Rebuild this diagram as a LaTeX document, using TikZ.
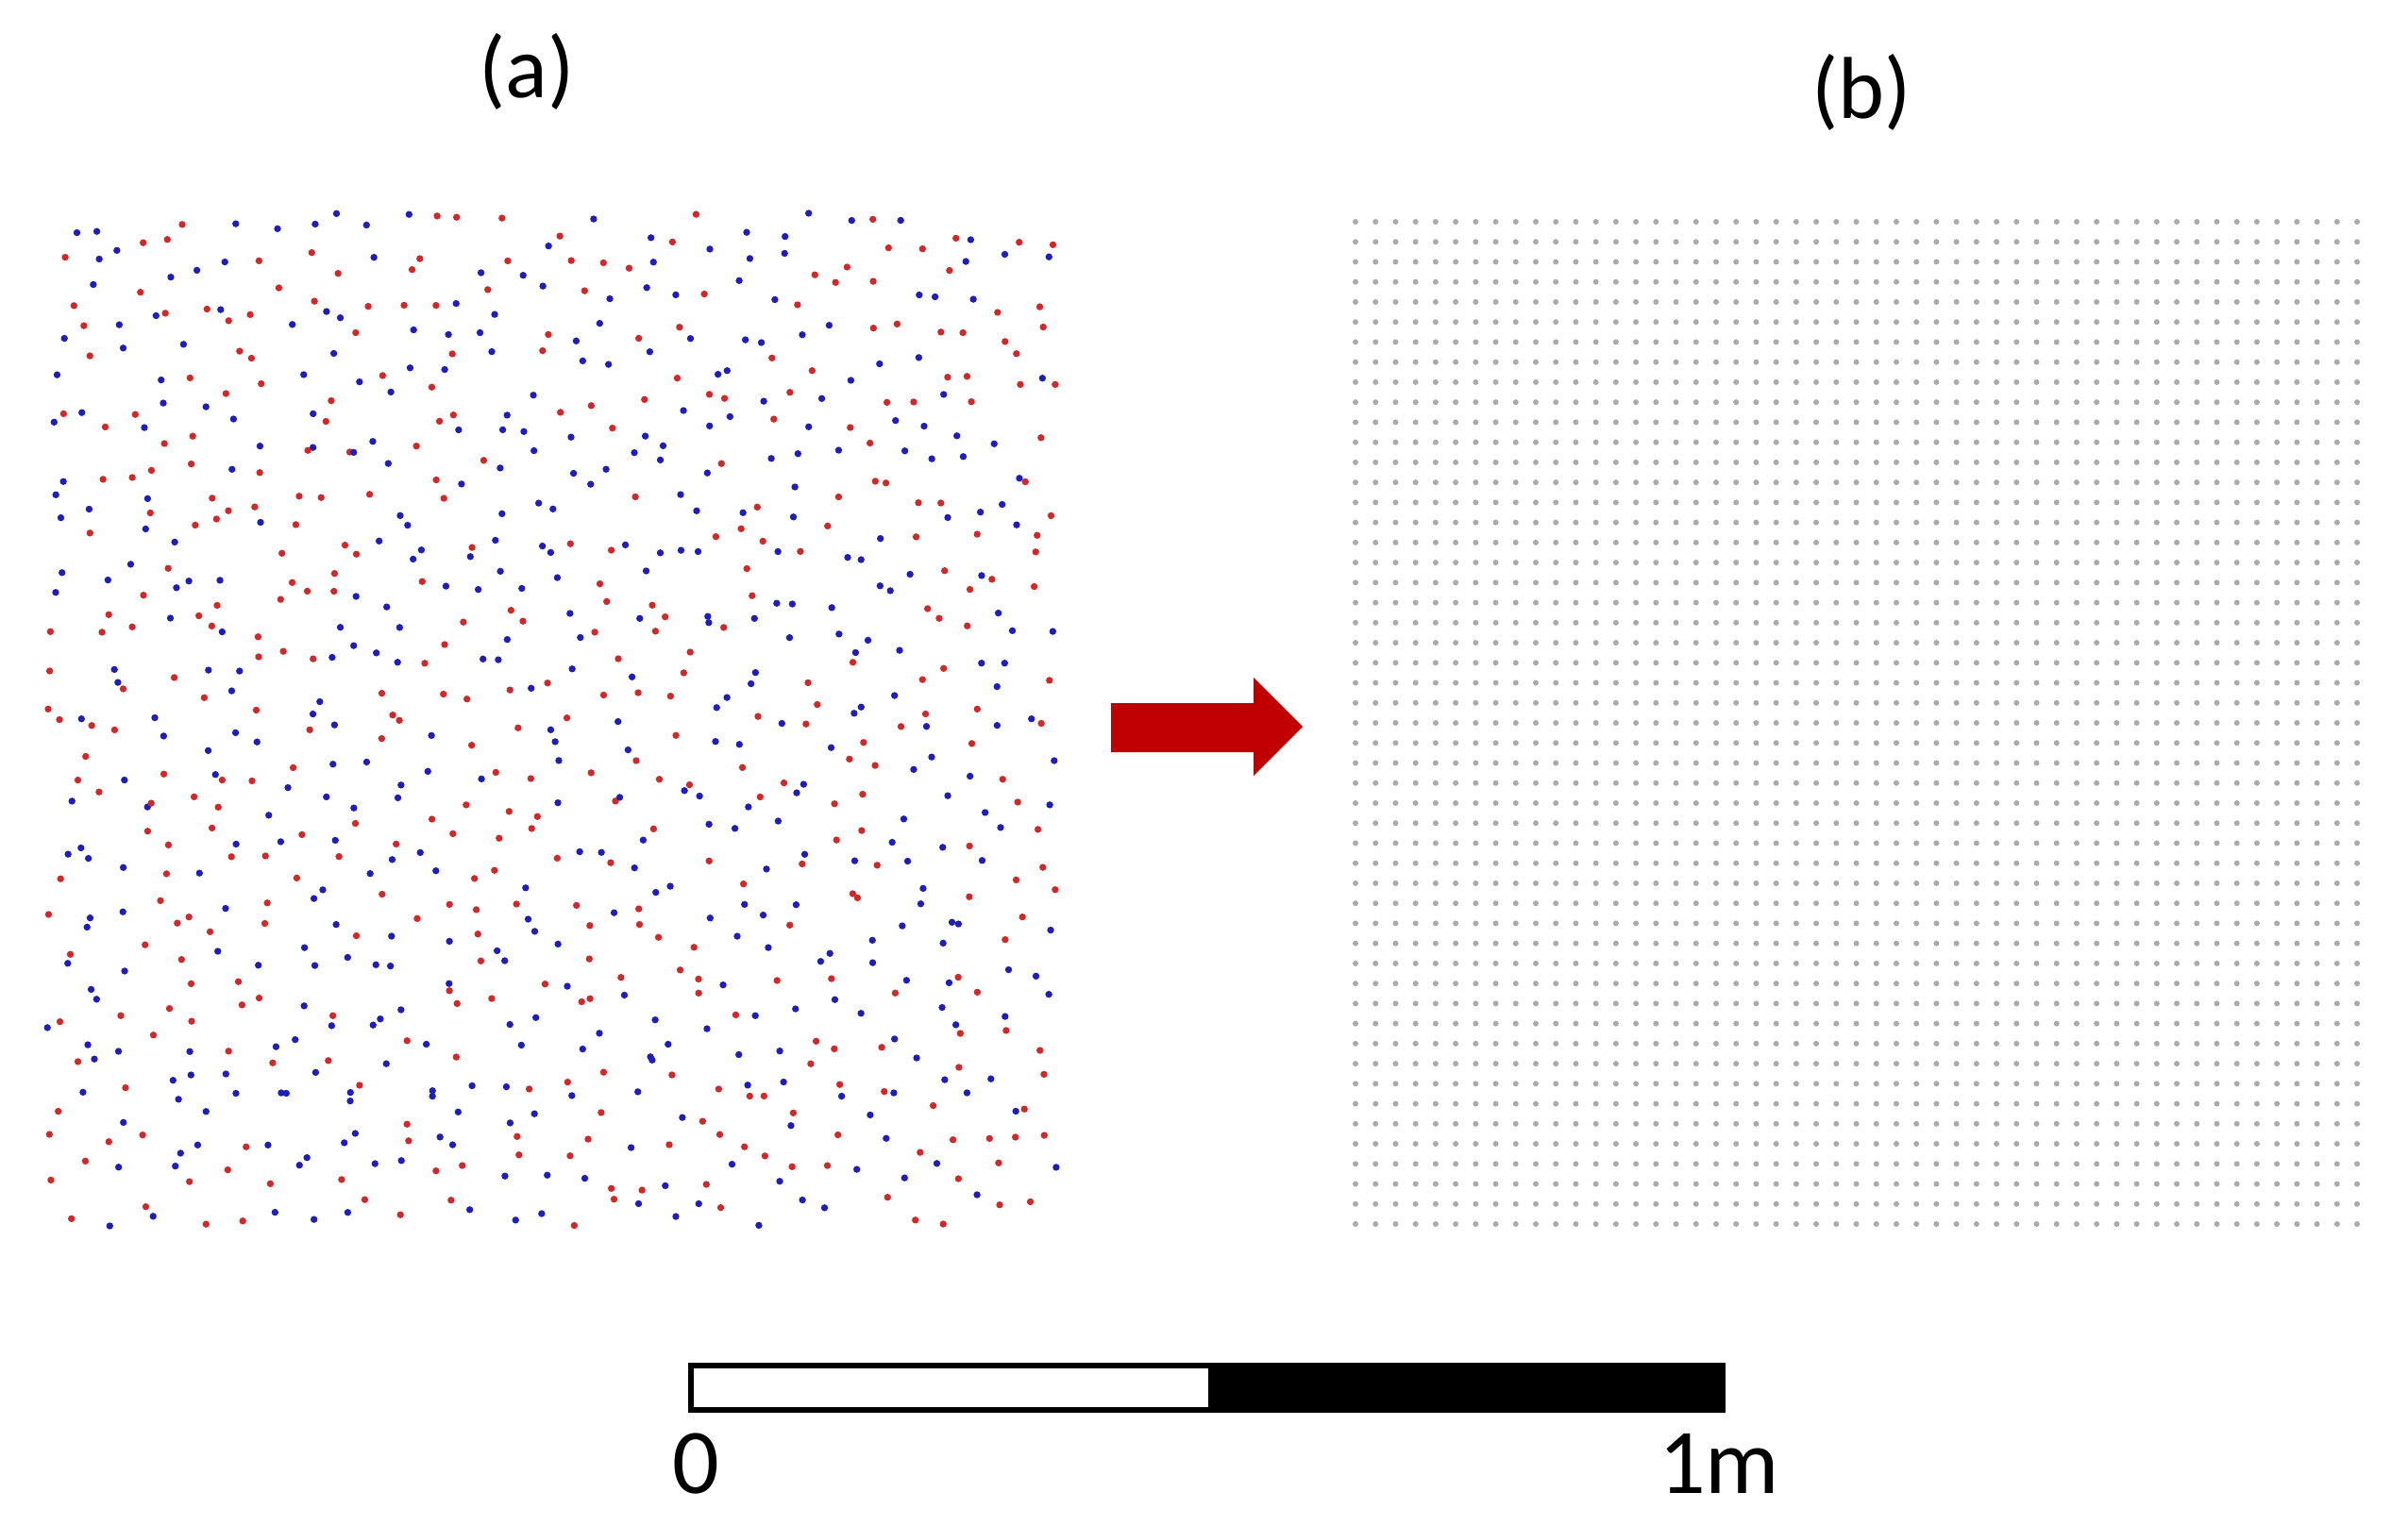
\documentclass[tikz,border=0pt]{standalone}
\usepackage{fontspec}
\setmainfont{Carlito}
\definecolor{reddot}{RGB}{212,40,40}
\definecolor{bluedot}{RGB}{30,30,190}
\definecolor{griddot}{RGB}{170,170,170}
\definecolor{arrowred}{RGB}{192,0,0}
\tikzset{
  panellabel/.style={inner sep=0pt, anchor=base, font=\fontsize{26.5pt}{30pt}\selectfont},
  scalelabel/.style={inner sep=0pt, anchor=base, font=\fontsize{27.9pt}{32pt}\selectfont},
  rdot/.style={fill=reddot},
  bdot/.style={fill=bluedot},
}
\begin{document}
\begin{tikzpicture}
\useasboundingbox (0,0) rectangle (25.51,-16.16);
% labels
\node[panellabel] (la) at (5.58,-1.03) {(a)};
\node[panellabel] (lb) at (19.72,-1.25) {(b)};
% panel (a): scattered red and blue points (jittered grid)
\pgfmathsetseed{20231}
\foreach \i in {0,...,29}{
  \foreach \j in {0,...,29}{
    \pgfmathsetmacro{\px}{0.50+(\i+rnd)*0.3567}
    \pgfmathsetmacro{\py}{-2.25-(\j+rnd)*0.3583}
    \pgfmathparse{rnd<0.5?1:0}
    \ifnum\pgfmathresult=1
      \fill[rdot] (\px,\py) circle (0.037);
    \else
      \fill[bdot] (\px,\py) circle (0.037);
    \fi
  }
}
% arrow
\fill[arrowred] (11.77,-7.45) -- (13.28,-7.45) -- (13.28,-7.18) -- (13.80,-7.70)
  -- (13.28,-8.22) -- (13.28,-7.97) -- (11.77,-7.97) -- cycle;
% panel (b): regular grid
\fill[griddot] \foreach \i in {0,...,50}{ \foreach \j in {0,...,50}{
  ({14.36+\i*0.2122},{-2.35-\j*0.2124}) circle (0.03) } };
% scale bar
\coordinate (sbl) at (7.32,-14.47);
\coordinate (sbm) at (12.80,-14.70);
\coordinate (sbr) at (18.25,-14.94);
\fill[black] (sbm |- sbl) rectangle (sbr);
\draw[line width=1.45pt] (sbl) rectangle (sbr);
\node[scalelabel] (zero) at (7.37,-15.82) {0};
\node[scalelabel] (onem) at (18.21,-15.82) {1m};
\end{tikzpicture}
\end{document}
